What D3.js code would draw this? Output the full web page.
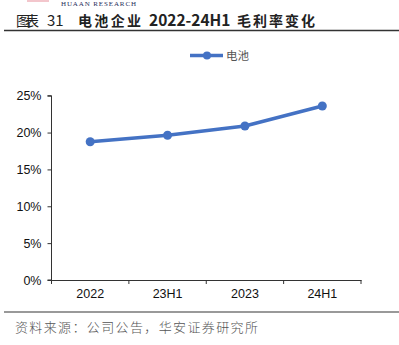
<!DOCTYPE html>
<html>
<head>
<meta charset="utf-8">
<script src="https://cdn.jsdelivr.net/npm/d3@7/dist/d3.min.js"></script>
<style>
  html, body { margin: 0; padding: 0; background: #fff; }
  svg { display: block; }
</style>
</head>
<body>
<svg id="chart" width="399" height="345"></svg>
<script>
// Gross margin of battery companies, 2022 – 24H1
const categories = ["2022", "23H1", "2023", "24H1"];
const marginValues = [18.76, 19.63, 20.89, 23.6];
const seriesName = "电池";
const yTicks = [0, 5, 10, 15, 20, 25];

const svg = d3.select("#chart");
const W = 399, H = 345;
const blue = "#4472C4";
const cjk = "Noto Sans CJK SC, sans-serif";

// Header brand mark and text
svg.append("rect").attr("x", 27).attr("y", -2).attr("width", 22).attr("height", 4).attr("fill", "#f3c6cc");
svg.append("text").attr("x", 61).attr("y", 5.5)
  .attr("font-family", "Liberation Serif, serif").attr("font-size", 7)
  .attr("fill", "#1f2d5a").attr("textLength", 75).text("HUAAN RESEARCH");

// Title, laid out in pieces (w = forced width, null keeps the natural width)
const titleParts = [
  { t: "图表", x: 16, w: 23, wt: 400, fs: 14 },
  { t: "31", x: 47, w: null, wt: 400, fs: 15 },
  { t: "电池企业", x: 78, w: 63, wt: 700, fs: 14 },
  { t: "2022-24H1", x: 149, w: null, wt: 700, fs: 15.5 },
  { t: "毛利率变化", x: 237, w: 78, wt: 700, fs: 14 }
];
const tt = svg.append("g").selectAll("text").data(titleParts).enter().append("text")
  .attr("x", d => d.x).attr("y", 25.5)
  .attr("font-family", cjk).attr("font-size", d => d.fs)
  .attr("font-weight", d => d.wt).attr("fill", "#222")
  .text(d => d.t);
tt.filter(d => d.w).attr("textLength", d => d.w).attr("lengthAdjust", "spacing");

// Header and footer rules
svg.append("line").attr("x1", 4).attr("x2", W).attr("y1", 30.5).attr("y2", 30.5)
  .attr("stroke", "#333").attr("stroke-width", 1.5);
svg.append("line").attr("x1", 4).attr("x2", W).attr("y1", 312).attr("y2", 312)
  .attr("stroke", "#999").attr("stroke-width", 2);

// Source note
svg.append("text").attr("x", 15).attr("y", 332)
  .attr("font-family", cjk).attr("font-size", 13).attr("font-weight", 300)
  .attr("fill", "#555").attr("textLength", 243).attr("lengthAdjust", "spacing")
  .text("资料来源：公司公告，华安证券研究所");

// Plot area
const x = d3.scaleBand().domain(categories).range([51.5, 361]);
const y = d3.scaleLinear().domain([0, 25]).range([280, 95.7]);

const yAxis = svg.append("g").attr("transform", "translate(51.5,0)")
  .call(d3.axisLeft(y).tickValues(yTicks).tickFormat(d => d + "%").tickSize(4).tickPadding(6));
const xAxis = svg.append("g").attr("transform", "translate(0,280)")
  .call(d3.axisBottom(x).tickSize(0).tickPadding(9));

// Tick marks on the category boundaries
xAxis.selectAll(".boundary").data(categories.concat(["end"]))
  .enter().append("line")
  .attr("x1", (d, i) => 51.5 + i * x.bandwidth())
  .attr("x2", (d, i) => 51.5 + i * x.bandwidth())
  .attr("y1", 0).attr("y2", 4).attr("stroke", "#333");

[yAxis, xAxis].forEach(g => {
  g.select(".domain").attr("stroke", "#333");
  g.selectAll(".tick line").attr("stroke", "#333");
  g.selectAll("text").attr("font-family", "Liberation Sans, Arial, sans-serif")
    .attr("font-size", 12.5).attr("fill", "#111");
});
yAxis.select(".domain").attr("d", "M-4,95.7H0V280H-4");

// Series line and markers
const cx = d => x(d) + x.bandwidth() / 2;
const line = d3.line().x((d, i) => cx(categories[i])).y(d => y(d));
svg.append("path").datum(marginValues).attr("d", line)
  .attr("fill", "none").attr("stroke", blue).attr("stroke-width", 3.5)
  .attr("stroke-linejoin", "round");
svg.selectAll(".pt").data(marginValues).enter().append("circle")
  .attr("cx", (d, i) => cx(categories[i])).attr("cy", d => y(d))
  .attr("r", 4.5).attr("fill", blue);

// Legend
const lg = svg.append("g");
lg.append("line").attr("x1", 190).attr("x2", 223).attr("y1", 55.5).attr("y2", 55.5)
  .attr("stroke", blue).attr("stroke-width", 3.5);
lg.append("circle").attr("cx", 207).attr("cy", 55.5).attr("r", 4).attr("fill", blue);
lg.append("text").attr("x", 226).attr("y", 60)
  .attr("font-family", cjk).attr("font-size", 11.5)
  .attr("fill", "#555").text(seriesName);
</script>
</body>
</html>
